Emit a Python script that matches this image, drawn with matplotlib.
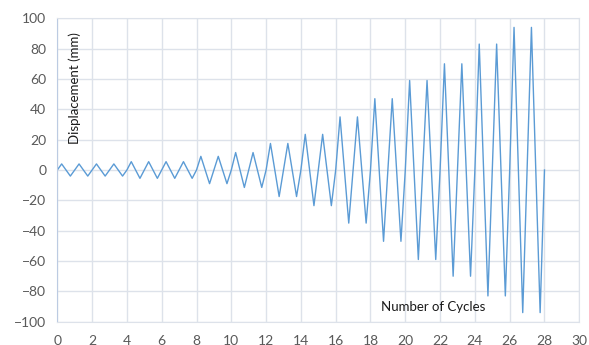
import matplotlib
matplotlib.use('Agg')
import matplotlib.pyplot as plt

# peak displacement (mm) of each of the 28 loading cycles
cycle_amplitudes = [4, 4, 4, 4, 5.5, 5.5, 5.5, 5.5, 9, 9, 11.5, 11.5,
                    17.5, 17.5, 23.5, 23.5, 35, 35, 47, 47, 59, 59,
                    70, 70, 83, 83, 94, 94]
x_ticks = list(range(0, 31, 2))
y_ticks = list(range(-100, 101, 20))

# each cycle: 0 -> +A -> 0 -> -A -> 0 over one cycle
cycles = []
disp = []
for i, amp in enumerate(cycle_amplitudes):
    for frac, val in [(0, 0), (0.25, amp), (0.5, 0), (0.75, -amp)]:
        cycles.append(i + frac)
        disp.append(val)
cycles.append(len(cycle_amplitudes))
disp.append(0)

plt.rcParams['font.family'] = ['Lato', 'DejaVu Sans']

fig = plt.figure(figsize=(5.89, 3.45), dpi=100)
ax = fig.add_axes([0.0973, 0.0675, 0.8862, 0.8795])

ax.plot(cycles, disp, color='#5b9bd5', linewidth=1.0)

ax.set_xlim(0, 30)
ax.set_ylim(-100, 100)
ax.set_xticks(x_ticks)
ax.set_yticks(y_ticks)
ax.tick_params(length=0, labelsize=10, labelcolor='#595959')
ax.tick_params(axis='x', pad=9.5)
ax.tick_params(axis='y', pad=8)
ax.grid(True, color='#dde2ea', linewidth=1.0)
ax.set_axisbelow(True)
for side in ['top', 'right', 'bottom']:
    ax.spines[side].set_color('#dde2ea')
ax.spines['left'].set_color('#bccbe2')

ax.text(1.0, 54, 'Displacement (mm)', rotation=90, ha='center', va='center',
        fontsize=9.5, color='#1a1a1a')
ax.text(18.6, -90, 'Number of Cycles', ha='left', va='center',
        fontsize=9.5, color='#1a1a1a')

fig.savefig('out.png', dpi=100)
